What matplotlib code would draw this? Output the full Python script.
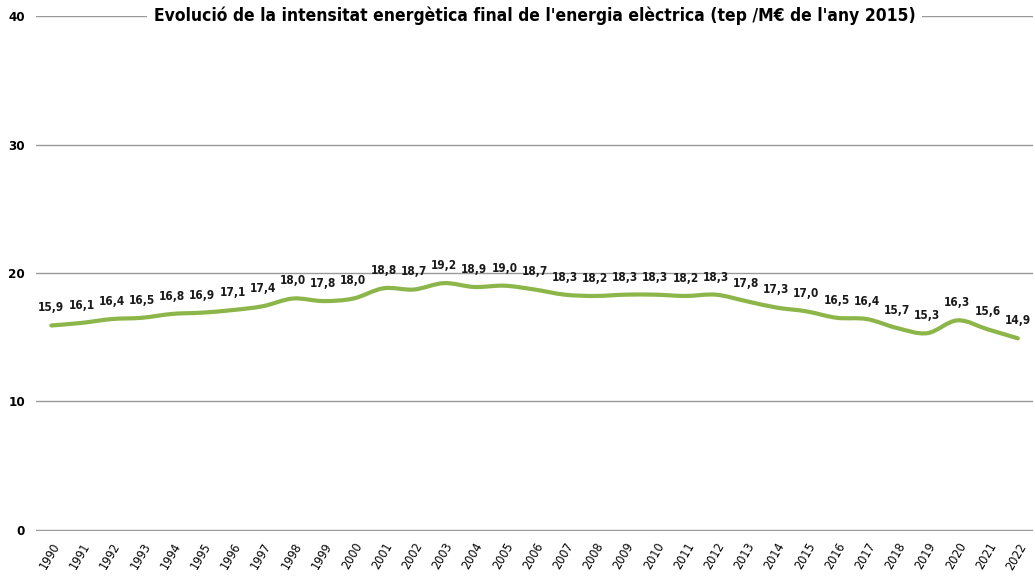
import matplotlib
matplotlib.use("Agg")
import matplotlib.pyplot as plt
import numpy as np
from matplotlib.path import Path
from matplotlib.patches import PathPatch

years = [str(y) for y in range(1990, 2023)]
values = [15.9, 16.1, 16.4, 16.5, 16.8, 16.9, 17.1, 17.4, 18.0, 17.8, 18.0,
          18.8, 18.7, 19.2, 18.9, 19.0, 18.7, 18.3, 18.2, 18.3, 18.3, 18.2,
          18.3, 17.8, 17.3, 17.0, 16.5, 16.4, 15.7, 15.3, 16.3, 15.6, 14.9]
title = "Evolució de la intensitat energètica final de l'energia elèctrica (tep /M€ de l'any 2015)"

narrow = ['DejaVu Sans']
green = '#8cb64a'


def smooth_path(x, y, t=1 / 6):
    # Excel-style smoothed line: cubic Bezier through every point
    verts = [(x[0], y[0])]
    codes = [Path.MOVETO]
    n = len(x)
    for i in range(n - 1):
        p0 = (x[max(i - 1, 0)], y[max(i - 1, 0)])
        p1 = (x[i], y[i])
        p2 = (x[i + 1], y[i + 1])
        p3 = (x[min(i + 2, n - 1)], y[min(i + 2, n - 1)])
        c1 = (p1[0] + (p2[0] - p0[0]) * t, p1[1] + (p2[1] - p0[1]) * t)
        c2 = (p2[0] - (p3[0] - p1[0]) * t, p2[1] - (p3[1] - p1[1]) * t)
        verts += [c1, c2, p2]
        codes += [Path.CURVE4] * 3
    return Path(verts, codes)


fig = plt.figure(figsize=(10.35, 5.77), dpi=100)
ax = fig.add_axes([0.035, 0.08, 0.963, 0.892])

x = np.arange(len(years))
ax.add_patch(PathPatch(smooth_path(x, values), fill=False, ec=green,
                       lw=3, capstyle='round', joinstyle='round', zorder=3))

for xi, v in zip(x, values):
    ax.annotate(f"{v:.1f}".replace('.', ','), (xi, v), xytext=(0, 8),
                textcoords='offset points', ha='center', va='bottom',
                fontsize=8.5, fontweight='bold', family=narrow,
                fontstretch='condensed', color='#1a1a1a')

ax.set_xlim(-0.5, len(years) - 0.5)
ax.set_ylim(-0.1, 40)
ax.set_yticks([0, 10, 20, 30, 40])
ax.set_yticklabels(['0', '10', '20', '30', '40'], fontsize=9.5, family=narrow,
                   fontweight='bold', fontstretch='condensed')
ax.set_xticks(x)
ax.set_xticklabels(years, rotation=60, ha='right', va='top', fontsize=9,
                   rotation_mode='anchor', fontstretch='condensed')
ax.tick_params(length=0, pad=8)
ax.tick_params(axis='x', pad=7)
ax.grid(axis='y', color='#9a9a9a', lw=1)
ax.set_axisbelow(True)
for s in ax.spines.values():
    s.set_visible(False)

ax.text(0.5, 40, title, transform=ax.get_yaxis_transform(), ha='center',
        va='center', fontsize=12.5, fontweight='bold', family=narrow,
        fontstretch='condensed',
        bbox=dict(fc='white', ec='none', pad=5), zorder=5)

fig.savefig('out.png', dpi=100)
